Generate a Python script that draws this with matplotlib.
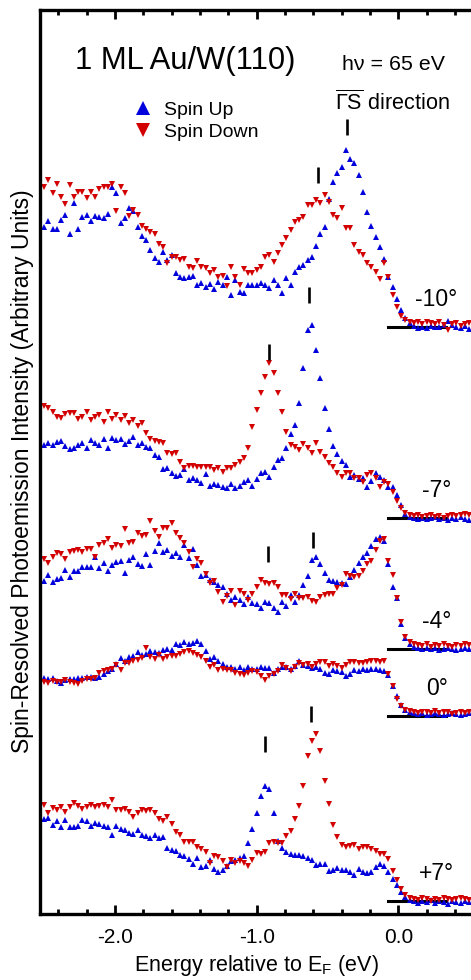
import numpy as np
import matplotlib
matplotlib.use("Agg")
import matplotlib.pyplot as plt
from matplotlib.ticker import MultipleLocator, FixedLocator

plt.rcParams['font.family'] = ['Liberation Sans', 'DejaVu Sans']
plt.rcParams['mathtext.fontset'] = 'custom'
plt.rcParams['mathtext.rm'] = 'Liberation Sans'
plt.rcParams['axes.unicode_minus'] = False

# energy grid of the spectra (eV, relative to E_F)
energy = np.linspace(-2.50, 0.50, 101)

# spin resolved intensities (arb. units, above each spectrum's baseline)
up_m10 = [100, 106, 98, 98, 107, 112, 93, 124, 98, 110,
          112, 106, 111, 110, 109, 113, 140, 134, 104, 109,
          119, 116, 100, 91, 87, 77, 69, 65, 75, 67,
          72, 54, 50, 49, 50, 51, 42, 44, 40, 43,
          38, 45, 42, 50, 32, 47, 35, 34, 42, 42,
          42, 44, 42, 39, 47, 42, 34, 49, 42, 55,
          60, 62, 67, 70, 81, 93, 100, 128, 145, 154,
          160, 177, 168, 164, 152, 135, 115, 101, 90, 80,
          68, 50, 40, 28, 17, 9, 4, 1, -1, 0,
          -1, 1, 0, 0, 2, 6, 2, 0, -1, 1, -2]
dn_m10 = [140, 147, 134, 143, 130, 123, 142, 130, 135, 135,
          129, 135, 130, 138, 140, 140, 143, 116, 140, 134,
          111, 117, 112, 101, 98, 95, 93, 83, 80, 64,
          70, 70, 67, 68, 60, 59, 66, 60, 59, 54,
          57, 50, 51, 41, 60, 50, 42, 58, 54, 54,
          57, 60, 70, 72, 65, 74, 82, 89, 97, 105,
          107, 110, 122, 122, 127, 124, 132, 125, 112, 109,
          119, 99, 99, 82, 75, 72, 64, 60, 55, 48,
          64, 50, 32, 20, 11, 7, 5, 4, 5, 3,
          5, 4, 3, 5, 2, -3, 3, 4, 1, 3, 4]
up_m7 = [73, 75, 73, 76, 77, 72, 69, 70, 73, 75,
         70, 78, 75, 73, 79, 70, 80, 78, 79, 74,
         77, 81, 73, 75, 71, 70, 63, 61, 49, 50,
         45, 42, 43, 49, 38, 40, 38, 35, 44, 32,
         34, 33, 31, 30, 34, 30, 32, 36, 38, 32,
         39, 45, 46, 41, 51, 58, 60, 70, 84, 93,
         115, 150, 188, 193, 168, 140, 110, 89, 72, 64,
         57, 53, 41, 43, 39, 40, 31, 37, 45, 41,
         38, 31, 31, 23, 13, 4, 1, 0, -1, 0,
         -1, 0, 1, -1, 0, -2, 0, -1, 1, -1, -2]
dn_m7 = [112, 110, 106, 101, 100, 104, 105, 105, 99, 101,
         106, 98, 101, 103, 96, 106, 99, 103, 98, 102,
         95, 98, 92, 95, 85, 79, 77, 76, 75, 65,
         64, 65, 56, 50, 52, 52, 51, 51, 51, 51,
         48, 50, 46, 50, 50, 53, 56, 60, 70, 91,
         108, 125, 141, 155, 145, 125, 106, 86, 73, 71,
         68, 74, 70, 65, 75, 66, 61, 55, 51, 45,
         41, 45, 45, 40, 40, 36, 43, 45, 40, 31,
         36, 34, 26, 17, 10, 5, 3, 2, 3, 1,
         2, 3, 1, 2, 0, 2, 3, 2, 3, 4, 3]
up_m4 = [68, 74, 67, 70, 71, 79, 72, 78, 78, 82,
         82, 82, 92, 81, 86, 78, 84, 87, 88, 76,
         89, 92, 85, 83, 95, 84, 98, 106, 97, 99,
         93, 96, 92, 104, 91, 100, 84, 73, 74, 69,
         67, 64, 62, 55, 49, 52, 49, 45, 52, 46,
         45, 41, 47, 46, 41, 37, 47, 43, 54, 47,
         54, 64, 73, 89, 92, 85, 76, 69, 68, 67,
         66, 65, 72, 79, 86, 92, 96, 103, 110, 112,
         108, 85, 62, 51, 25, 11, 5, 2, 1, 0,
         1, 0, 1, -1, 0, 1, 0, -1, 0, 1, 0]
dn_m4 = [90, 86, 92, 96, 95, 90, 97, 98, 99, 97,
         100, 100, 92, 104, 106, 110, 101, 104, 103, 120,
         106, 107, 116, 113, 114, 128, 118, 112, 121, 121,
         126, 116, 111, 106, 97, 82, 90, 86, 75, 66,
         68, 57, 47, 53, 58, 44, 58, 55, 49, 55,
         62, 69, 66, 65, 66, 62, 54, 54, 50, 55,
         51, 51, 52, 48, 47, 52, 54, 55, 55, 61,
         64, 75, 73, 72, 73, 78, 85, 88, 99, 108,
         110, 88, 74, 51, 27, 12, 7, 5, 4, 3,
         5, 2, 4, 3, 5, 3, 2, 4, 3, 5, 4]
up_0 = [38, 37, 38, 35, 33, 36, 37, 37, 38, 38,
        39, 39, 38, 39, 42, 45, 47, 52, 58, 55,
        59, 60, 64, 61, 62, 65, 64, 63, 66, 67,
        66, 72, 71, 74, 72, 73, 75, 72, 65, 57,
        59, 55, 52, 49, 49, 47, 49, 46, 49, 47,
        47, 49, 48, 48, 43, 47, 49, 49, 47, 50,
        55, 51, 50, 48, 49, 47, 43, 42, 46, 45,
        44, 40, 42, 46, 45, 47, 46, 47, 47, 46,
        45, 41, 30, 20, 11, 6, 4, 3, 2, 3,
        1, 2, 3, 2, 1, 2, 3, 2, 1, 2, 3]
dn_0 = [34, 33, 35, 34, 34, 36, 34, 33, 32, 35,
        37, 37, 38, 43, 45, 46, 47, 51, 46, 53,
        53, 55, 56, 58, 68, 59, 57, 61, 57, 59,
        60, 60, 62, 64, 65, 63, 61, 59, 55, 49,
        51, 46, 47, 46, 46, 43, 42, 41, 43, 45,
        44, 40, 36, 40, 42, 45, 51, 48, 45, 49,
        53, 51, 52, 49, 52, 54, 54, 50, 52, 50,
        48, 51, 54, 54, 53, 53, 54, 55, 55, 54,
        55, 42, 30, 17, 10, 6, 5, 4, 3, 4,
        4, 3, 5, 3, 4, 4, 2, 3, 4, 3, 4]
up_p7 = [82, 83, 76, 80, 74, 81, 74, 74, 75, 81,
         80, 75, 78, 77, 75, 74, 66, 75, 72, 71,
         68, 67, 71, 66, 65, 63, 66, 63, 64, 53,
         51, 50, 46, 45, 42, 37, 43, 34, 35, 41,
         32, 29, 31, 35, 40, 41, 43, 45, 58, 72,
         88, 105, 115, 112, 88, 60, 53, 49, 47, 46,
         46, 45, 43, 41, 36, 37, 37, 30, 31, 33,
         31, 31, 29, 26, 32, 29, 28, 29, 34, 37,
         35, 29, 22, 16, 9, 4, 1, 0, -2, 0,
         -1, 1, -2, 0, -1, -3, 0, -1, -2, 0, -1]
dn_p7 = [96, 88, 93, 91, 94, 89, 94, 98, 95, 92,
         94, 96, 94, 95, 96, 94, 101, 91, 91, 92,
         89, 84, 88, 91, 90, 91, 88, 82, 80, 84,
         77, 69, 66, 59, 59, 59, 54, 52, 49, 38,
         45, 44, 40, 34, 41, 38, 40, 38, 35, 41,
         48, 47, 49, 58, 59, 58, 58, 65, 70, 82,
         95, 115, 145, 160, 167, 150, 120, 97, 76, 64,
         56, 54, 55, 56, 52, 54, 54, 52, 50, 47,
         47, 42, 30, 21, 12, 6, 3, 2, 1, 3,
         2, 0, 2, 1, 3, 2, 1, 2, 3, 2, 1]

angles = ['-10°', '-7°', '-4°', '0°', '+7°']
offsets = [587, 396, 265, 198, 13]
spin_up = [up_m10, up_m7, up_m4, up_0, up_p7]
spin_down = [dn_m10, dn_m7, dn_m4, dn_0, dn_p7]

# peak markers: (spectrum index, energy, height above baseline)
peak_marks = [(0, -0.36, 192), (0, -0.565, 144),
              (1, -0.63, 215), (1, -0.91, 158),
              (2, -0.60, 101), (2, -0.92, 87),
              (4, -0.615, 179), (4, -0.94, 149)]

blue = '#0000dc'
red = '#d20000'

fig = plt.figure(figsize=(4.71, 9.80), dpi=100)
ax = fig.add_axes([40 / 471, 66 / 980, 431 / 471, 904 / 980])

for i in range(len(angles)):
    off = offsets[i]
    ax.plot(energy, np.array(spin_up[i]) + off, '^', color=blue, ms=4.2, mew=0,
            label='Spin Up' if i == 0 else None)
    ax.plot(energy, np.array(spin_down[i]) + off, 'v', color=red, ms=4.2, mew=0,
            label='Spin Down' if i == 0 else None)
    ax.plot([-0.07, 0.34], [off, off], color='black', lw=2.2, zorder=1)
    ax.text(0.27, off + 21, angles[i], fontsize=16.5, ha='center', va='baseline')

for idx, e, h in peak_marks:
    ax.plot([e, e], [offsets[idx] + h, offsets[idx] + h + 16], color='black', lw=1.9,
            solid_capstyle='butt')

ax.set_xlim(-2.53, 0.513)
ax.set_ylim(0, 904)
ax.xaxis.set_major_locator(FixedLocator([-2.0, -1.0, 0.0]))
ax.xaxis.set_minor_locator(MultipleLocator(0.2))
ax.xaxis.set_major_formatter(plt.FuncFormatter(lambda v, p: '%.1f' % v))
ax.set_yticks([])
ax.tick_params(axis='x', which='both', direction='in', top=True, width=2, labelsize=15, pad=10)
ax.tick_params(axis='x', which='major', length=6.5)
ax.tick_params(axis='x', which='minor', length=3.6)
for s in ['left', 'top', 'bottom']:
    ax.spines[s].set_linewidth(2.4)
ax.spines['right'].set_visible(False)

ax.set_xlabel(r'Energy relative to E$_\mathrm{F}$ (eV)', fontsize=15.5)
ax.xaxis.set_label_coords(0.503, -0.043)
ax.set_ylabel('Spin-Resolved Photoemission Intensity (Arbitrary Units)', fontsize=16.5)
ax.yaxis.set_label_coords(-0.013, 0.49)

fig.text(75 / 471, 1 - 69 / 980, '1 ML Au/W(110)', fontsize=22.3, va='baseline')
fig.text(342 / 471, 1 - 70 / 980, 'h\u03bd = 65 eV', fontsize=15.4, va='baseline')
fig.text(335 / 471, 1 - 110 / 980, r'$\overline{\mathrm{\Gamma S}}$ direction', fontsize=15.6,
         va='baseline')

ax.legend(loc='upper left', bbox_to_anchor=(133 / 471, 1 - 101 / 980),
          bbox_transform=fig.transFigure, frameon=False, fontsize=14, markerscale=2.4,
          handlelength=1.0, handletextpad=0.6, labelspacing=0.25, borderpad=0,
          borderaxespad=0, numpoints=1)

fig.savefig('out.png', dpi=100)
